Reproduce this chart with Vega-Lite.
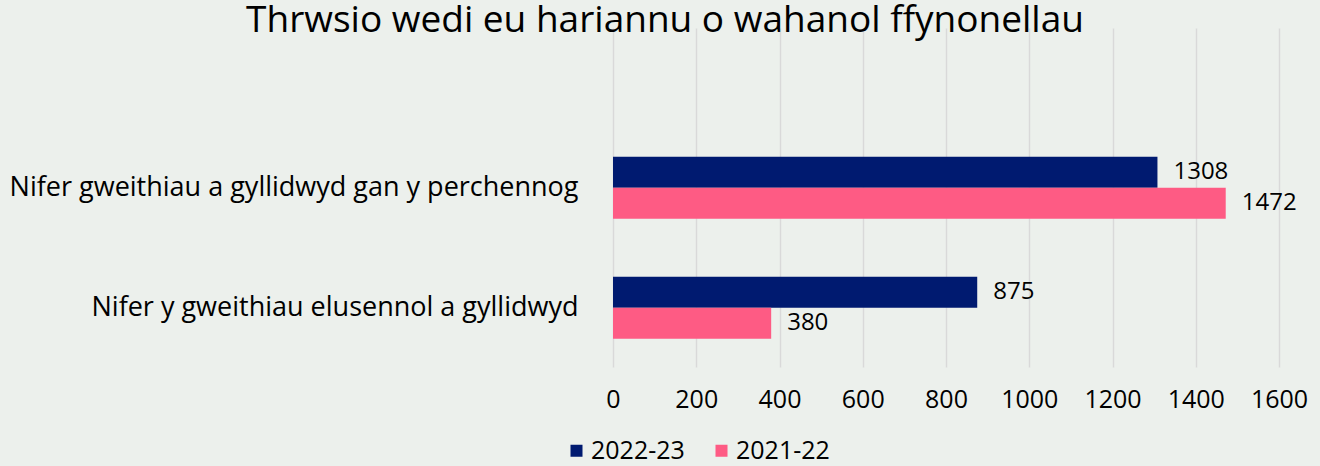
{
  "$schema": "https://vega.github.io/schema/vega-lite/v6.json",
  "width": 666,
  "height": 339,
  "autosize": {"type": "none"},
  "padding": {"left": 613, "top": 28, "right": 41, "bottom": 99},
  "background": "#ecf0ec",
  "title": {
    "text": "Thrwsio wedi eu hariannu o wahanol ffynonellau",
    "font": "Open Sans",
    "fontSize": 37,
    "fontWeight": "normal",
    "color": "#000000",
    "anchor": "middle",
    "frame": "group",
    "dx": -281,
    "offset": -12
  },
  "config": {"view": {"stroke": null}},
  "data": {
    "values": [
      {"cat": "Nifer gweithiau a gyllidwyd gan y perchennog", "year": "2022-23", "value": 1308},
      {"cat": "Nifer gweithiau a gyllidwyd gan y perchennog", "year": "2021-22", "value": 1472},
      {"cat": "Nifer y gweithiau  elusennol a gyllidwyd", "year": "2022-23", "value": 875},
      {"cat": "Nifer y gweithiau  elusennol a gyllidwyd", "year": "2021-22", "value": 380}
    ]
  },
  "encoding": {
    "y": {
      "field": "cat",
      "type": "nominal",
      "sort": null,
      "scale": {"paddingInner": 0.4833, "paddingOuter": 0.654, "align": 0.82},
      "axis": {
        "title": null,
        "labelFont": "Open Sans",
        "labelFontSize": 27,
        "labelColor": "#000000",
        "ticks": false,
        "domain": false,
        "labelPadding": 35,
        "labelLimit": 0
      }
    },
    "yOffset": {
      "field": "year",
      "type": "nominal",
      "sort": ["2022-23", "2021-22"],
      "scale": {"paddingInner": 0, "paddingOuter": 0}
    },
    "x": {
      "field": "value",
      "type": "quantitative",
      "scale": {"domain": [0, 1600], "nice": false},
      "axis": {
        "title": null,
        "values": [0, 200, 400, 600, 800, 1000, 1200, 1400, 1600],
        "format": "d",
        "labelFlush": false,
        "grid": true,
        "gridColor": "#d9d9d9",
        "gridWidth": 1.5,
        "domain": false,
        "ticks": false,
        "labelFont": "Open Sans",
        "labelFontSize": 25,
        "labelColor": "#000000",
        "labelPadding": 20
      }
    }
  },
  "layer": [
    {
      "mark": {"type": "bar"},
      "encoding": {
        "color": {
          "field": "year",
          "type": "nominal",
          "scale": {"domain": ["2022-23", "2021-22"], "range": ["#001a70", "#fe5b84"]},
          "legend": {
            "title": null,
            "orient": "none",
            "direction": "horizontal",
            "legendX": -49,
            "legendY": 410,
            "symbolType": "square",
            "symbolSize": 144,
            "symbolStrokeWidth": 0,
            "symbolOpacity": 1,
            "labelFont": "Open Sans",
            "labelFontSize": 25,
            "labelColor": "#000000",
            "labelOffset": 2,
            "columnPadding": 24
          }
        }
      }
    },
    {
      "mark": {"type": "text", "align": "left", "baseline": "middle", "dx": 16, "font": "Open Sans", "fontSize": 24, "color": "#000000"},
      "encoding": {
        "text": {"field": "value", "type": "quantitative", "format": "d"}
      }
    }
  ]
}
